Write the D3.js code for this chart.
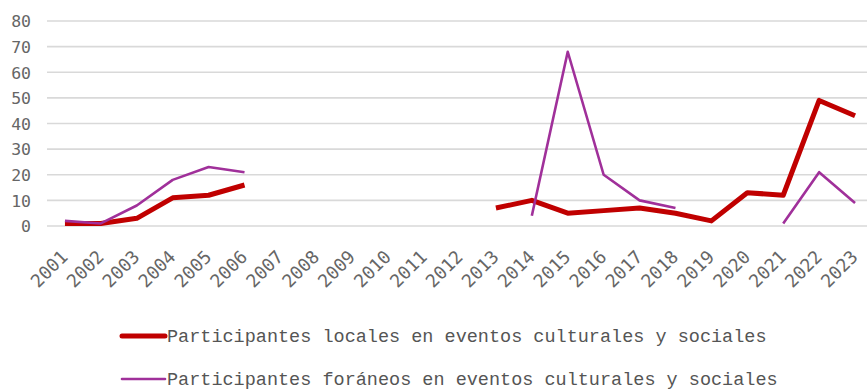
<!DOCTYPE html>
<html>
<head>
<meta charset="utf-8">
<script src="https://cdn.jsdelivr.net/npm/d3@7"></script>
<style>
  html, body { margin: 0; padding: 0; background: #fff; }
  svg { display: block; }
</style>
</head>
<body>
<svg id="chart" width="867" height="390"></svg>
<script>
// Years on the x axis
const years = ["2001","2002","2003","2004","2005","2006","2007","2008","2009","2010","2011","2012",
               "2013","2014","2015","2016","2017","2018","2019","2020","2021","2022","2023"];
// Local participants (null = no record that year)
const locales = [1, 1, 3, 11, 12, 16, null, null, null, null, null, null,
                 7, 10, 5, 6, 7, 5, 2, 13, 12, 49, 43];
// Visiting participants
const foraneos = [2, 1, 8, 18, 23, 21, null, null, null, null, null, null,
                  null, 4, 68, 20, 10, 7, null, null, 1, 21, 9];
const yTicks = [0, 10, 20, 30, 40, 50, 60, 70, 80];
const seriesNames = ["Participantes locales en eventos culturales y sociales",
                     "Participantes foráneos en eventos culturales y sociales"];

const svg = d3.select("#chart");

const x = d3.scaleBand().domain(years).range([47, 873]);
const y = d3.scaleLinear().domain([0, 80]).range([226, 21]);
const cx = d => x(d) + x.bandwidth() / 2;

// horizontal gridlines
svg.append("g")
  .selectAll("line")
  .data(yTicks)
  .join("line")
  .attr("x1", 47).attr("x2", 867)
  .attr("y1", d => y(d)).attr("y2", d => y(d))
  .attr("stroke", "#d9d9d9")
  .attr("stroke-width", 1.6);

// y axis labels
const yAxis = d3.axisLeft(y).tickValues(yTicks).tickSize(0).tickPadding(0);
svg.append("g")
  .attr("transform", "translate(31,0)")
  .call(yAxis)
  .call(g => g.select(".domain").remove())
  .call(g => g.selectAll("text")
    .attr("font-family", "'DejaVu Sans Mono', monospace")
    .attr("font-size", 16.5)
    .attr("fill", "#666")
    .attr("dy", "0.35em"));

// x axis labels, rotated
const xAxis = d3.axisBottom(x).tickSize(0).tickPadding(0);
svg.append("g")
  .attr("transform", "translate(0,236)")
  .call(xAxis)
  .call(g => g.select(".domain").remove())
  .call(g => g.selectAll("text")
    .attr("font-family", "'DejaVu Sans Mono', monospace")
    .attr("font-size", 18)
    .attr("fill", "#666")
    .attr("text-anchor", "end")
    .attr("x", 0).attr("y", 0).attr("dy", 0).attr("dx", 0)
    .attr("transform", "translate(4,22) rotate(-45)"));

const line = d3.line()
  .defined(d => d.v != null)
  .x(d => cx(d.year))
  .y(d => y(d.v));

const series = [
  { name: seriesNames[0], values: locales, color: "#c00000", width: 5 },
  { name: seriesNames[1], values: foraneos, color: "#a0309a", width: 2.6 }
];

series.forEach(s => {
  svg.append("path")
    .datum(years.map((yr, i) => ({ year: yr, v: s.values[i] })))
    .attr("fill", "none")
    .attr("stroke", s.color)
    .attr("stroke-width", s.width)
    .attr("stroke-linejoin", "round")
    .attr("d", line);
});

// legend
const legend = svg.append("g");
series.forEach((s, i) => {
  const ly = 336 + i * 43;
  legend.append("line")
    .attr("x1", 122).attr("x2", 165)
    .attr("y1", ly).attr("y2", ly)
    .attr("stroke", s.color)
    .attr("stroke-width", s.width)
    .attr("stroke-linecap", "round");
  legend.append("text")
    .attr("x", 167).attr("y", ly)
    .attr("dy", "0.35em")
    .attr("font-family", "'Liberation Mono', 'Courier New', monospace")
    .attr("font-size", 18.5)
    .attr("fill", "#555")
    .text(s.name);
});
</script>
</body>
</html>
